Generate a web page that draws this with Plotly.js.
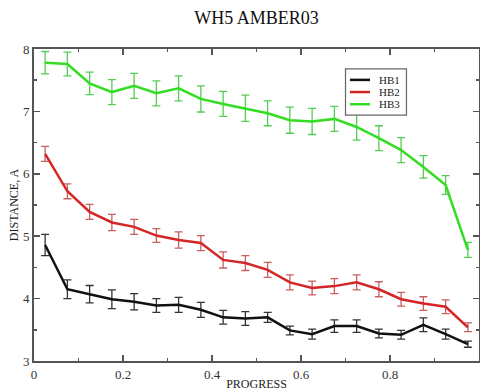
<!DOCTYPE html>
<html>
<head>
<meta charset="utf-8">
<script src="https://cdn.plot.ly/plotly-3.0.1.min.js"></script>
<style>html,body{margin:0;padding:0;background:#fff;}#chart{width:480px;height:391px;}</style>
</head>
<body>
<div id="chart"></div>
<script>
const progress = [0.025,0.075,0.125,0.175,0.225,0.275,0.325,0.375,0.425,0.475,0.525,0.575,0.625,0.675,0.725,0.775,0.825,0.875,0.925,0.975];
const hb1 = [4.86,4.15,4.07,3.99,3.95,3.89,3.90,3.82,3.70,3.68,3.70,3.49,3.43,3.56,3.56,3.44,3.42,3.58,3.43,3.27];
const hb1Err = [0.17,0.15,0.14,0.15,0.13,0.11,0.12,0.12,0.11,0.11,0.08,0.07,0.08,0.10,0.10,0.07,0.07,0.11,0.08,0.05];
const hb2 = [6.32,5.72,5.39,5.22,5.15,5.01,4.94,4.89,4.62,4.57,4.46,4.26,4.17,4.20,4.26,4.15,3.99,3.92,3.87,3.54];
const hb2Err = [0.12,0.12,0.12,0.13,0.12,0.11,0.13,0.12,0.13,0.12,0.12,0.12,0.11,0.12,0.12,0.12,0.11,0.11,0.11,0.07];
const hb3 = [7.78,7.76,7.45,7.31,7.41,7.29,7.37,7.20,7.12,7.05,6.97,6.86,6.84,6.88,6.75,6.57,6.38,6.11,5.82,4.78];
const hb3Err = [0.18,0.19,0.18,0.20,0.20,0.20,0.20,0.21,0.20,0.21,0.20,0.21,0.21,0.20,0.21,0.20,0.20,0.18,0.15,0.12];
const seriesNames = ['HB1','HB2','HB3'];
const seriesColors = ['#111111','#d42626','#33dd22'];
const errColors = ['#333333','#c86060','#55cc55'];

const font = '"Liberation Serif", "Times New Roman", serif';
function trace(i, y, err) {
  return {
    x: progress, y: y, name: seriesNames[i], type: 'scatter', mode: 'lines', showlegend: false,
    line: {color: seriesColors[i], width: 2.5},
    error_y: {type: 'data', array: err, visible: true, color: errColors[i], thickness: 1.3, width: 4}
  };
}
const data = [trace(0, hb1, hb1Err), trace(1, hb2, hb2Err), trace(2, hb3, hb3Err)];

// custom compact legend (paper coordinates)
const legBox = {x0: 0.700, x1: 0.837, y0: 0.788, y1: 0.936};
const legRows = [0.901, 0.862, 0.823];
const shapes = [{type: 'rect', xref: 'paper', yref: 'paper', x0: legBox.x0, x1: legBox.x1, y0: legBox.y0, y1: legBox.y1,
                 line: {color: '#666', width: 1.2}, fillcolor: '#fff', layer: 'above'}];
const annotations = [];
seriesNames.forEach((n, i) => {
  shapes.push({type: 'line', xref: 'paper', yref: 'paper', x0: 0.710, x1: 0.755, y0: legRows[i], y1: legRows[i],
               line: {color: seriesColors[i], width: 2.5}, layer: 'above'});
  annotations.push({xref: 'paper', yref: 'paper', x: 0.772, y: legRows[i], xanchor: 'left', yanchor: 'middle',
                    text: n, showarrow: false, height: 10, borderpad: 0,
                    font: {family: font, size: 11, color: '#222'}});
});

const axisCommon = {
  showgrid: false, zeroline: false, showline: true, linecolor: '#555', linewidth: 2,
  mirror: 'allticks', ticks: 'inside', ticklen: 6, tickwidth: 1.5, tickcolor: '#555',
  tickfont: {family: font, size: 13, color: '#333'}
};
const layout = {
  width: 480, height: 391,
  margin: {l: 34, r: 1, t: 49, b: 30},
  paper_bgcolor: '#fff', plot_bgcolor: '#fff',
  font: {family: font},
  title: {text: 'WH5 AMBER03', font: {family: font, size: 18, color: '#111'}, xref: 'paper', x: 0.5, xanchor: 'center', y: 0.955, yanchor: 'middle'},
  showlegend: false,
  shapes: shapes,
  annotations: annotations,
  xaxis: Object.assign({}, axisCommon, {
    range: [0, 1], tickvals: [0, 0.2, 0.4, 0.6, 0.8, 1], ticktext: ['0','0.2','0.4','0.6','0.8','1'],
    minor: {tickvals: [0.1, 0.3, 0.5, 0.7, 0.9], ticks: 'inside', ticklen: 3, tickcolor: '#555'},
    title: {text: 'PROGRESS', font: {family: font, size: 12, color: '#222'}, standoff: 1}
  }),
  yaxis: Object.assign({}, axisCommon, {
    range: [3, 8], tickvals: [3,4,5,6,7,8],
    minor: {tickvals: [3.5,4.5,5.5,6.5,7.5], ticks: 'inside', ticklen: 3, tickcolor: '#555'},
    title: {text: 'DISTANCE, A', font: {family: font, size: 12, color: '#222'}, standoff: 2}
  })
};
Plotly.newPlot('chart', data, layout, {displayModeBar: false, staticPlot: true});
</script>
</body>
</html>
